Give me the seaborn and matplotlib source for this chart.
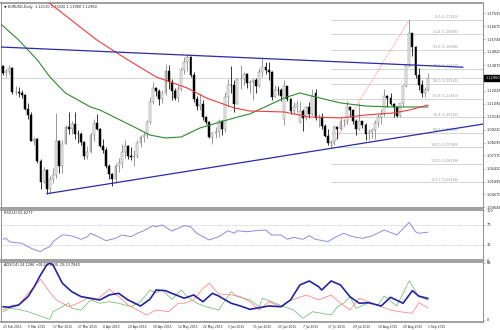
import matplotlib
matplotlib.use("Agg")
import matplotlib.pyplot as plt
import matplotlib.transforms as mtransforms
import numpy as np
import pandas as pd
import seaborn as sns

# ---------------- data ----------------
symbol = "EURUSD,Daily"
dates = pd.bdate_range("2015-02-23", "2015-09-01")

opens = [1.1380, 1.1329, 1.1344, 1.1363, 1.1195, 1.1196, 1.1184, 1.1175, 1.1074, 1.1029,
         1.0843, 1.0853, 1.0698, 1.0548, 1.0632, 1.0496, 1.0567, 1.0597, 1.0839, 1.0659,
         1.0822, 1.0940, 1.0926, 1.0965, 1.0890, 1.0889, 1.0834, 1.0731, 1.0762, 1.0884,
         1.0970, 1.0924, 1.0808, 1.0778, 1.0660, 1.0601, 1.0565, 1.0658, 1.0686, 1.0763,
         1.0808, 1.0733, 1.0724, 1.0731, 1.0825, 1.0872, 1.0884, 1.0980, 1.1124, 1.1225,
         1.1198, 1.1146, 1.1184, 1.1346, 1.1267, 1.1198, 1.1154, 1.1212, 1.1350, 1.1408,
         1.1448, 1.1317, 1.1145, 1.1095, 1.1109, 1.1012, 1.0979, 1.0873, 1.0899, 1.0908,
         1.0986, 1.0924, 1.1159, 1.1245, 1.1244, 1.1110, 1.1287, 1.1290, 1.1323, 1.1255,
         1.1263, 1.1283, 1.1240, 1.1336, 1.1371, 1.1350, 1.1338, 1.1159, 1.1207, 1.1205,
         1.1000, 1.1235, 1.1146, 1.1057, 1.1087, 1.0980, 1.1056, 1.1007, 1.1083, 1.1039,
         1.1185, 1.1004, 1.1012, 1.0952, 1.0877, 1.0827, 1.0831, 1.0939, 1.0931, 1.0983,
         1.0983, 1.1087, 1.1062, 1.0987, 1.0931, 1.0984, 1.0955, 1.0890, 1.0903, 1.0923,
         1.0970, 1.1016, 1.1039, 1.1162, 1.1150, 1.1107, 1.1086, 1.1024, 1.1111, 1.1236,
         1.1386, 1.1618, 1.1518, 1.1318, 1.1244, 1.1183, 1.1211]
highs = [1.1389, 1.1362, 1.1387, 1.1370, 1.1238, 1.1227, 1.1208, 1.1180, 1.1115, 1.1049,
         1.0870, 1.0861, 1.0715, 1.0651, 1.0638, 1.0590, 1.0645, 1.1043, 1.0849, 1.0846,
         1.0956, 1.1052, 1.0988, 1.1051, 1.0919, 1.0903, 1.0839, 1.0805, 1.0907, 1.1002,
         1.1035, 1.0935, 1.0858, 1.0800, 1.0678, 1.0614, 1.0684, 1.0720, 1.0818, 1.0848,
         1.0815, 1.0800, 1.0779, 1.0849, 1.0887, 1.0904, 1.0992, 1.1155, 1.1268, 1.1231,
         1.1218, 1.1208, 1.1392, 1.1391, 1.1288, 1.1222, 1.1247, 1.1375, 1.1444, 1.1467,
         1.1454, 1.1337, 1.1164, 1.1190, 1.1139, 1.1018, 1.0985, 1.0905, 1.0944, 1.0996,
         1.0993, 1.1197, 1.1284, 1.1379, 1.1281, 1.1298, 1.1386, 1.1337, 1.1334, 1.1279,
         1.1284, 1.1295, 1.1364, 1.1437, 1.1406, 1.1410, 1.1343, 1.1243, 1.1235, 1.1226,
         1.1278, 1.1240, 1.1147, 1.1120, 1.1135, 1.1126, 1.1073, 1.1094, 1.1122, 1.1216,
         1.1217, 1.1033, 1.1040, 1.0963, 1.0925, 1.0849, 1.0953, 1.0952, 1.1004, 1.0997,
         1.1129, 1.1095, 1.1066, 1.0996, 1.1114, 1.0987, 1.0974, 1.0924, 1.0932, 1.0989,
         1.1039, 1.1072, 1.1214, 1.1174, 1.1188, 1.1114, 1.1093, 1.1114, 1.1244, 1.1391,
         1.1713, 1.1620, 1.1523, 1.1367, 1.1282, 1.1230, 1.1332]
lows = [1.1313, 1.1301, 1.1324, 1.1176, 1.1173, 1.1161, 1.1147, 1.1064, 1.1000, 1.0839,
        1.0809, 1.0685, 1.0494, 1.0537, 1.0462, 1.0470, 1.0540, 1.0578, 1.0612, 1.0612,
        1.0817, 1.0888, 1.0892, 1.0854, 1.0829, 1.0812, 1.0713, 1.0713, 1.0757, 1.0843,
        1.0918, 1.0795, 1.0754, 1.0646, 1.0570, 1.0520, 1.0540, 1.0620, 1.0645, 1.0717,
        1.0711, 1.0708, 1.0660, 1.0720, 1.0795, 1.0834, 1.0860, 1.0967, 1.1106, 1.1162,
        1.1103, 1.1111, 1.1171, 1.1216, 1.1134, 1.1139, 1.1120, 1.1200, 1.1323, 1.1345,
        1.1300, 1.1120, 1.1062, 1.1061, 1.0990, 1.0960, 1.0866, 1.0819, 1.0860, 1.0868,
        1.0886, 1.0906, 1.1089, 1.1187, 1.1049, 1.1106, 1.1215, 1.1241, 1.1220, 1.1189,
        1.1134, 1.1187, 1.1232, 1.1305, 1.1322, 1.1277, 1.1134, 1.1158, 1.1169, 1.1132,
        1.0955, 1.1131, 1.1032, 1.1033, 1.1051, 1.0968, 1.0915, 1.0990, 1.1007, 1.1031,
        1.0989, 1.0939, 1.0930, 1.0868, 1.0809, 1.0796, 1.0810, 1.0858, 1.0922, 1.0952,
        1.0963, 1.1023, 1.0962, 1.0887, 1.0919, 1.0933, 1.0847, 1.0849, 1.0864, 1.0853,
        1.0943, 1.0960, 1.1018, 1.1084, 1.1099, 1.1016, 1.1016, 1.1016, 1.1096, 1.1233,
        1.1373, 1.1456, 1.1297, 1.1207, 1.1156, 1.1156, 1.1198]
closes = [1.1329, 1.1344, 1.1363, 1.1195, 1.1196, 1.1184, 1.1175, 1.1074, 1.1029, 1.0843,
          1.0853, 1.0698, 1.0548, 1.0632, 1.0496, 1.0567, 1.0597, 1.0839, 1.0659, 1.0822,
          1.0940, 1.0926, 1.0965, 1.0890, 1.0889, 1.0834, 1.0731, 1.0762, 1.0884, 1.0970,
          1.0924, 1.0808, 1.0778, 1.0660, 1.0601, 1.0565, 1.0658, 1.0686, 1.0763, 1.0808,
          1.0733, 1.0724, 1.0731, 1.0825, 1.0872, 1.0884, 1.0980, 1.1124, 1.1225, 1.1198,
          1.1146, 1.1184, 1.1346, 1.1267, 1.1198, 1.1154, 1.1212, 1.1350, 1.1408, 1.1448,
          1.1317, 1.1145, 1.1095, 1.1109, 1.1012, 1.0979, 1.0873, 1.0899, 1.0908, 1.0986,
          1.0924, 1.1159, 1.1245, 1.1244, 1.1110, 1.1287, 1.1290, 1.1323, 1.1255, 1.1263,
          1.1283, 1.1240, 1.1336, 1.1371, 1.1350, 1.1338, 1.1159, 1.1207, 1.1205, 1.1165,
          1.1235, 1.1146, 1.1057, 1.1087, 1.1107, 1.1056, 1.1007, 1.1083, 1.1039, 1.1165,
          1.1004, 1.1012, 1.0952, 1.0877, 1.0827, 1.0831, 1.0939, 1.0931, 1.0983, 1.0983,
          1.1087, 1.1062, 1.0987, 1.0931, 1.0984, 1.0955, 1.0890, 1.0903, 1.0923, 1.0970,
          1.1016, 1.1039, 1.1162, 1.1150, 1.1107, 1.1086, 1.1024, 1.1111, 1.1236, 1.1386,
          1.1618, 1.1518, 1.1318, 1.1244, 1.1183, 1.1211, 1.1296]

# moving averages (bar index, price)
ma_red_bars = [14, 21, 30, 39, 49, 59, 65, 74, 79, 90, 98, 108, 116, 125, 130, 136]
ma_red_vals = [1.1848, 1.1726, 1.1568, 1.1438, 1.1302, 1.1222, 1.1151, 1.1079, 1.1057,
               1.1050, 1.1014, 1.1007, 1.1028, 1.1043, 1.1064, 1.1100]
ma_green_bars = [-1, 5, 11, 15, 20, 28, 31, 42, 47, 52, 57, 63, 74, 79, 90, 95, 100, 108,
                 116, 125, 136]
ma_green_vals = [1.1689, 1.1568, 1.1424, 1.1302, 1.1186, 1.1086, 1.1064, 1.0942, 1.0884,
                 1.0863, 1.0870, 1.0935, 1.1007, 1.1036, 1.1151, 1.1187, 1.1158, 1.1115,
                 1.1093, 1.1086, 1.1086]

# trend lines (bar, price) pairs
upper_trend = [(-0.96, 1.15175), (147.2, 1.13720)]
lower_trend = [(14, 1.0462), (153.6, 1.0963)]

# Fibonacci retracement from the July low to the August high
fib_low_bar, fib_high_bar = 105, 130
fib_levels = [0.0, 11.4, 23.6, 38.2, 50.0, 61.8, 76.4, 88.6, 100.0, 113.0, 127.2]

# RSI(14)
rsi_bars = [0, 1, 2, 4, 6, 9, 11, 12, 13, 15, 16, 17, 19, 20, 22, 25, 27, 28, 30, 33,
            36, 38, 41, 43, 45, 48, 49, 51, 54, 58, 60, 62, 66, 69, 72, 74, 75, 78, 81,
            84, 86, 89, 91, 93, 96, 98, 100, 104, 106, 109, 112, 115, 118, 122, 126,
            130, 132, 133, 136]
rsi_vals = [41.4, 43.4, 36.6, 34.6, 33.4, 23.4, 18.6, 16.6, 21.4, 26.6, 36.6, 41.4,
            50.0, 50.0, 48.0, 41.4, 46.6, 53.4, 48.0, 38.6, 43.4, 50.0, 46.6, 53.4,
            58.6, 68.6, 66.6, 70.0, 58.0, 68.6, 66.6, 53.4, 40.0, 46.6, 58.6, 53.4,
            58.6, 56.6, 58.6, 60.0, 50.0, 50.0, 41.4, 45.4, 41.4, 48.6, 41.4, 36.6,
            44.6, 53.4, 46.6, 43.4, 48.0, 60.0, 50.0, 75.4, 56.6, 53.4, 55.6277]

# ADX(14) with +DI / -DI
adx_bars = [0, 2, 5, 8, 10, 12, 14, 15, 16, 19, 22, 25, 28, 31, 34, 37, 40, 44, 47,
            49, 52, 54, 58, 61, 64, 67, 69, 73, 76, 79, 82, 85, 89, 92, 95, 98, 101,
            102, 105, 108, 111, 114, 117, 121, 124, 128, 131, 133, 136]
adx_vals = [14.9, 14.3, 16.8, 26.2, 37.4, 50.5, 61.8, 63.9, 61.8, 41.2, 31.8, 26.2,
            24.4, 22.5, 28.1, 30.0, 22.5, 15.7, 23.2, 33.7, 32.9, 30.0, 24.4, 28.1,
            20.5, 30.0, 26.9, 18.8, 15.7, 12.0, 13.8, 15.7, 14.9, 22.5, 39.3, 43.8,
            37.4, 33.7, 43.8, 39.3, 26.2, 18.8, 19.4, 15.7, 25.5, 18.8, 32.9, 26.9,
            24.1286]
mdi_bars = [0, 2, 3, 5, 8, 10, 12, 14, 17, 21, 24, 27, 30, 34, 37, 40, 43, 46, 49,
            53, 56, 58, 61, 64, 66, 69, 73, 76, 79, 82, 85, 89, 91, 94, 97, 101, 105,
            108, 111, 114, 117, 121, 124, 127, 131, 133, 136]
mdi_vals = [11.2, 14.9, 16.8, 16.8, 30.0, 37.4, 45.7, 35.6, 22.5, 14.9, 18.8, 24.4,
            22.5, 34.5, 26.2, 16.8, 11.2, 5.6, 11.2, 9.3, 18.8, 18.8, 22.5, 35.6,
            41.2, 29.2, 28.1, 26.2, 20.5, 11.2, 20.5, 14.9, 20.5, 24.4, 28.1, 22.5,
            28.1, 18.8, 11.2, 24.4, 20.5, 14.9, 11.2, 9.3, 7.5, 19.4, 13.7840]
pdi_bars = [0, 2, 5, 8, 11, 14, 15, 16, 18, 21, 22, 25, 28, 31, 34, 37, 41, 44, 47,
            49, 51, 54, 57, 59, 62, 65, 69, 73, 75, 79, 82, 83, 86, 90, 93, 96, 99,
            102, 105, 107, 109, 111, 113, 117, 120, 122, 126, 130, 133, 136]
pdi_vals = [9.3, 13.1, 12.0, 9.3, 5.6, 1.9, 0.8, 9.3, 13.1, 18.8, 13.1, 11.2, 22.5,
            18.8, 20.5, 18.8, 14.9, 20.5, 33.7, 30.7, 33.7, 23.2, 33.7, 26.2, 18.8,
            14.9, 11.2, 31.8, 26.2, 22.5, 14.9, 24.4, 20.5, 14.9, 11.2, 1.9, 9.3, 7.5,
            5.6, 14.9, 18.8, 26.2, 13.1, 19.4, 16.8, 26.9, 15.7, 44.1, 26.2, 22.3]

price_ticks = ["1.17599", "1.16670", "1.15745", "1.14820", "1.13875", "1.12025",
               "1.11095", "1.10145", "1.09220", "1.08295", "1.07370", "1.06420",
               "1.05495", "1.04570", "1.03645"]
date_labels = ["23 Feb 2015", "5 Mar 2015", "17 Mar 2015", "27 Mar 2015", "8 Apr 2015",
               "20 Apr 2015", "30 Apr 2015", "12 May 2015", "22 May 2015", "3 Jun 2015",
               "15 Jun 2015", "25 Jun 2015", "7 Jul 2015", "17 Jul 2015", "29 Jul 2015",
               "10 Aug 2015", "20 Aug 2015", "1 Sep 2015"]
date_label_step = 8

# ---------------- style ----------------
sns.set_style("white")
plt.rcParams["font.family"] = ["DejaVu Sans"]

W, H = 500, 330
fig = plt.figure(figsize=(W / 100, H / 100), dpi=100)
fig.patch.set_facecolor("white")


def px_rect(x0, y0, x1, y1):
    return [x0 / W, 1 - y1 / H, (x1 - x0) / W, (y1 - y0) / H]


ax = fig.add_axes(px_rect(1, 3, 483, 208))
ax_rsi = fig.add_axes(px_rect(1, 210, 483, 260))
ax_adx = fig.add_axes(px_rect(1, 262, 483, 322))

XMIN, XMAX = -0.64, 153.6
GRID_GREY = "#909090"
TXT = 2.5
DATE_TXT = 2.2

for a in (ax, ax_rsi, ax_adx):
    a.set_xlim(XMIN, XMAX)
    a.set_facecolor("white")
    for s in a.spines.values():
        s.set_color(GRID_GREY)
        s.set_linewidth(0.7)
    a.spines["top"].set_linewidth(1.2)
    a.spines["bottom"].set_linewidth(1.2)
    a.yaxis.tick_right()
    a.tick_params(axis="y", which="both", length=1.5, width=0.4, color=GRID_GREY,
                  labelsize=TXT, pad=1.0, labelcolor="#222222", left=False)
    a.tick_params(axis="x", length=0, labelbottom=False)

# ---------------- price panel ----------------
ax.set_ylim(1.03592, 1.18340)
x = np.arange(len(closes))
o = np.array(opens)
h = np.array(highs)
l = np.array(lows)
c = np.array(closes)
bull = c >= o

ax.vlines(x[bull], l[bull], h[bull], color="#808080", linewidth=0.55, zorder=3)
ax.vlines(x[~bull], l[~bull], h[~bull], color="#000000", linewidth=0.55, zorder=3)
body_lo = np.minimum(o, c)
body_h = np.maximum(np.abs(c - o), 0.00012)
ax.bar(x[bull], body_h[bull], bottom=body_lo[bull], width=0.62, color="#f2f2f2",
       edgecolor="#808080", linewidth=0.35, zorder=4)
ax.bar(x[~bull], body_h[~bull], bottom=body_lo[~bull], width=0.62, color="#000000",
       edgecolor="#000000", linewidth=0.35, zorder=4)

# moving averages
sns.lineplot(x=ma_green_bars, y=ma_green_vals, ax=ax, color="#2f8a2f", linewidth=0.8,
             zorder=5)
sns.lineplot(x=ma_red_bars, y=ma_red_vals, ax=ax, color="#f03c3c", linewidth=0.8,
             zorder=5)

# trend lines
for pts in (upper_trend, lower_trend):
    ax.plot([p[0] for p in pts], [p[1] for p in pts], color="#2b2ba6", linewidth=0.9,
            zorder=6)

# current price line
last_close = closes[-1]
ax.axhline(last_close, color="#c8c8c8", linewidth=0.5, zorder=1)

# Fibonacci retracement
fib_hi = highs[fib_high_bar]
fib_lo = lows[fib_low_bar]
ax.plot([fib_low_bar, fib_high_bar], [fib_lo, fib_hi], color="#ff7070",
        linewidth=0.6, linestyle=(0, (1.2, 1.2)), zorder=2)
for lvl in fib_levels:
    price = fib_hi - lvl / 100 * (fib_hi - fib_lo)
    ax.hlines(price, fib_low_bar, XMAX, color="#cfcfcf", linewidth=0.6, zorder=1)
    ax.text(145.6, price + 0.0003, f"{lvl:.1f} ({price:.5f})", fontsize=2.4,
            color="#9a9a9a", ha="right", va="bottom", zorder=2)

ax.set_yticks([float(t) for t in price_ticks])
ax.set_yticklabels(price_ticks)

# current price tag on the axis
trans = mtransforms.blended_transform_factory(ax.transAxes, ax.transData)
ax.text(1.005, last_close, f"{last_close:.5f}", transform=trans, fontsize=TXT,
        color="white", ha="left", va="center", zorder=10, clip_on=False,
        bbox=dict(boxstyle="square,pad=0.3", facecolor="black", edgecolor="black"))

ax.text(0.006, 0.992,
        f"\u25bc {symbol}  {opens[-1]:.5f} {highs[-1]:.5f} {lows[-1]:.5f} {closes[-1]:.5f}",
        transform=ax.transAxes, fontsize=TXT, color="#222222", ha="left", va="top")

# ---------------- RSI panel ----------------
ax_rsi.set_ylim(0, 100)
for lev in (70, 30):
    ax_rsi.axhline(lev, color="#b0b0b0", linewidth=0.45, linestyle=(0, (1.5, 1.5)))
sns.lineplot(x=rsi_bars, y=rsi_vals, ax=ax_rsi, color="#8c8ce0", linewidth=0.7)
ax_rsi.set_yticks([100, 70, 30, 0])
ax_rsi.set_yticklabels(["100", "70", "30", "0"])
ax_rsi.text(0.006, 0.97, f"RSI(14) {rsi_vals[-1]:.4f}", transform=ax_rsi.transAxes,
            fontsize=TXT, color="#222222", ha="left", va="top")

# ---------------- ADX panel ----------------
ax_adx.set_ylim(-2.25, 65.1)
sns.lineplot(x=pdi_bars, y=pdi_vals, ax=ax_adx, color="#7cc07c", linewidth=0.6)
sns.lineplot(x=mdi_bars, y=mdi_vals, ax=ax_adx, color="#ff8a8a", linewidth=0.6)
sns.lineplot(x=adx_bars, y=adx_vals, ax=ax_adx, color="#2424a0", linewidth=1.2)
ax_adx.set_yticks([64, 0])
ax_adx.set_yticklabels(["64", "0"])
ax_adx.text(0.006, 0.975,
            f"ADX(14) {adx_vals[-1]:.4f} +DI:{pdi_vals[-1]:.4f} -DI:{mdi_vals[-1]:.4f}",
            transform=ax_adx.transAxes, fontsize=TXT, color="#222222", ha="left",
            va="top")

tick_pos = [i * date_label_step for i in range(len(date_labels))]
ax_adx.set_xticks(tick_pos)
ax_adx.set_xticklabels(date_labels, ha="left")
ax_adx.tick_params(axis="x", length=1.5, width=0.4, color=GRID_GREY, labelbottom=True,
                   labelsize=DATE_TXT, pad=0.8, labelcolor="#222222")
for a in (ax, ax_rsi):
    a.set_xticks(tick_pos)
    a.tick_params(axis="x", length=0, labelbottom=False)

for a in (ax, ax_rsi, ax_adx):
    a.set_xlabel("")
    a.set_ylabel("")

fig.savefig("out.png", dpi=100, facecolor="white")
